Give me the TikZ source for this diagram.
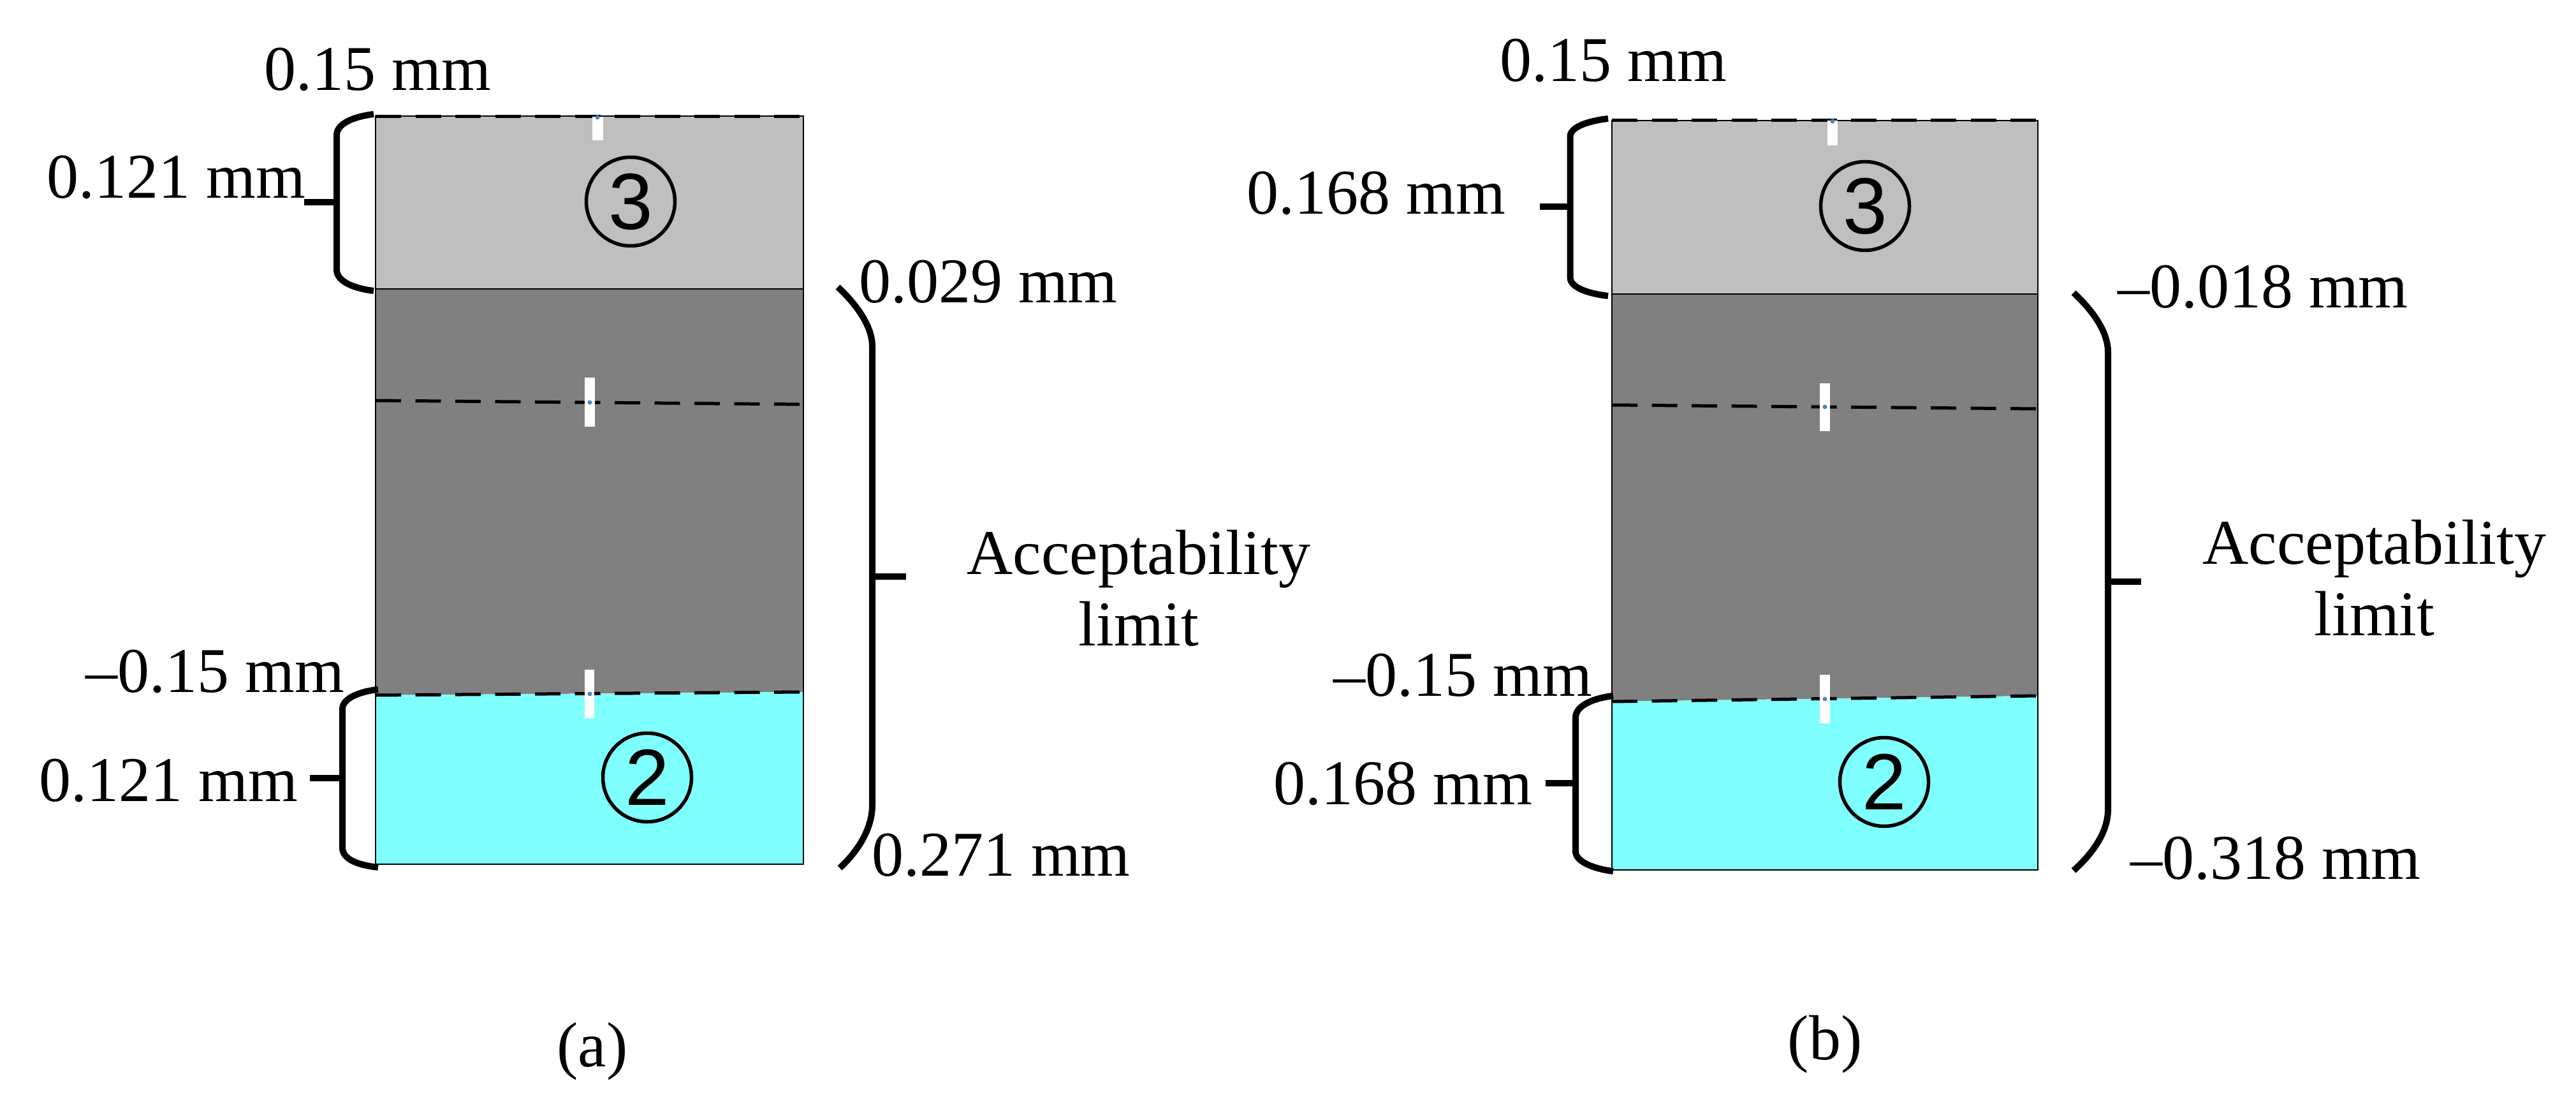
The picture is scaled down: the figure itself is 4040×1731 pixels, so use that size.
\documentclass[tikz,border=0pt]{standalone}
\usepackage{fontspec}
\setmainfont{Liberation Serif}
\newfontfamily\digitfont{Liberation Sans}
\definecolor{lgray}{HTML}{BFBFBF}
\definecolor{dgray}{HTML}{808080}
\definecolor{lcyan}{HTML}{80FFFF}
\definecolor{dotblue}{HTML}{4F81BD}
\begin{document}
\begin{tikzpicture}[x=0.2pt,y=-0.2pt,
  lbl/.style={inner sep=0pt, font=\fontsize{20}{22}\selectfont},
  brk/.style={line width=2pt, line cap=butt},
  dashline/.style={line width=1pt, dash pattern=on 8pt off 4.5pt},
  outline/.style={draw=black, line width=0.4pt},
  wbar/.style={fill=white, draw=none},
  bdot/.style={fill=dotblue, draw=none},
  circnum/.style={circle, draw=black, line width=1.1pt, minimum size=27.8pt, inner sep=0pt,
    font=\digitfont\fontsize{25}{25}\selectfont}]
\useasboundingbox (0,0) rectangle (4040,1731);

% ---------------- panel (a) ----------------
\fill[lgray] (589,182.5) rectangle (1260,452.7);
\fill[dgray] (589,452.7) -- (1260,452.7) -- (1260,1085) -- (589,1090) -- cycle;
\fill[lcyan] (589,1090) -- (1260,1085) -- (1260,1355) -- (589,1355) -- cycle;
\draw[outline] (589,182.5) rectangle (1260,1355);
\draw[outline] (589,452.7) -- (1260,452.7);
\draw[dashline] (589,182.6) -- (1260,182.6);
\draw[dashline] (589,628) -- (1260,634);
\draw[dashline] (589,1090) -- (1260,1085);
\fill[wbar] (929,182.6) rectangle (945.5,220.5);
\fill[wbar] (916.5,592) rectangle (933,669);
\fill[wbar] (917,1050) rectangle (932,1126);
\fill[bdot] (937,184) circle (3.5);
\fill[bdot] (925,631) circle (3.5);
\fill[bdot] (925,1088) circle (3.5);
\node[circnum] (a3) at (989,316) {3};
\node[circnum] (a2) at (1015,1219) {2};

% braces (a)
\draw[brk] (586,179) .. controls (560,182) and (528,192) .. (528,212) -- (528,423)
  .. controls (528,443) and (560,453) .. (586,456);
\draw[brk] (528,317) -- (477,317);
\draw[brk] (593,1081) .. controls (566,1084) and (537,1094) .. (537,1112) -- (537,1329)
  .. controls (537,1349) and (566,1357) .. (593,1360);
\draw[brk] (537,1219.5) -- (486,1219.5);
\draw[brk] (1314,450) .. controls (1344,478) and (1368,512) .. (1368,543) -- (1368,1262)
  .. controls (1368,1300) and (1345,1335) .. (1317,1361);
\draw[brk] (1368,904) -- (1421,904);

% labels (a)
\node[lbl, anchor=base] (a-top) at (592,142) {0.15 mm};
\node[lbl, anchor=base east] (a-w3) at (480,311) {0.121 mm};
\node[lbl, anchor=base west] (a-up) at (1346,474) {0.029 mm};
\node[lbl, anchor=base] (a-acc) at (1786,900) {Acceptability};
\node[lbl, anchor=base] (a-lim) at (1786,1012) {limit};
\node[lbl, anchor=base east] (a-low) at (541,1085.5) {–0.15 mm};
\node[lbl, anchor=base east] (a-w2) at (468,1256) {0.121 mm};
\node[lbl, anchor=base west] (a-dn) at (1366,1373) {0.271 mm};
\node[lbl, anchor=base] (a-cap) at (929,1672) {(a)};

% ---------------- panel (b) ----------------
\fill[lgray] (2528,189) rectangle (3196,460.7);
\fill[dgray] (2528,460.7) -- (3196,460.7) -- (3196,1091) -- (2528,1100) -- cycle;
\fill[lcyan] (2528,1100) -- (3196,1091) -- (3196,1364) -- (2528,1364) -- cycle;
\draw[outline] (2528,189) rectangle (3196,1364);
\draw[outline] (2528,460.7) -- (3196,460.7);
\draw[dashline] (2528,189) -- (3196,189);
\draw[dashline] (2528,635) -- (3196,641);
\draw[dashline] (2528,1100) -- (3196,1091);
\fill[wbar] (2866,189) rectangle (2882,228);
\fill[wbar] (2853.6,601) rectangle (2869.6,676);
\fill[wbar] (2853.6,1058) rectangle (2869.6,1134);
\fill[bdot] (2874,190) circle (3.5);
\fill[bdot] (2862,638) circle (3.5);
\fill[bdot] (2862,1096) circle (3.5);
\node[circnum] (b3) at (2925,323) {3};
\node[circnum] (b2) at (2955,1226) {2};

% braces (b)
\draw[brk] (2522,186) .. controls (2495,189) and (2462.5,198) .. (2462.5,214) -- (2462.5,435)
  .. controls (2462.5,452) and (2495,461) .. (2522,464);
\draw[brk] (2462.5,324) -- (2415,324);
\draw[brk] (2530,1091) .. controls (2503,1094) and (2471,1105) .. (2471,1125) -- (2471,1335)
  .. controls (2471,1352) and (2503,1363) .. (2530,1366);
\draw[brk] (2471,1228) -- (2424,1228);
\draw[brk] (3252,459) .. controls (3282,487) and (3306,520) .. (3306,552) -- (3306,1269)
  .. controls (3306,1305) and (3282,1338) .. (3252,1365);
\draw[brk] (3306,912) -- (3358,912);

% labels (b)
\node[lbl, anchor=base] (b-top) at (2530,127.7) {0.15 mm};
\node[lbl, anchor=base east] (b-w3) at (2362.5,335.7) {0.168 mm};
\node[lbl, anchor=base west] (b-up) at (3320,482.6) {–0.018 mm};
\node[lbl, anchor=base] (b-acc) at (3724,884) {Acceptability};
\node[lbl, anchor=base] (b-lim) at (3724,996.7) {limit};
\node[lbl, anchor=base east] (b-low) at (2498,1091) {–0.15 mm};
\node[lbl, anchor=base east] (b-w2) at (2404,1261.6) {0.168 mm};
\node[lbl, anchor=base west] (b-dn) at (3340,1378) {–0.318 mm};
\node[lbl, anchor=base] (b-cap) at (2862,1661) {(b)};
\end{tikzpicture}
\end{document}
